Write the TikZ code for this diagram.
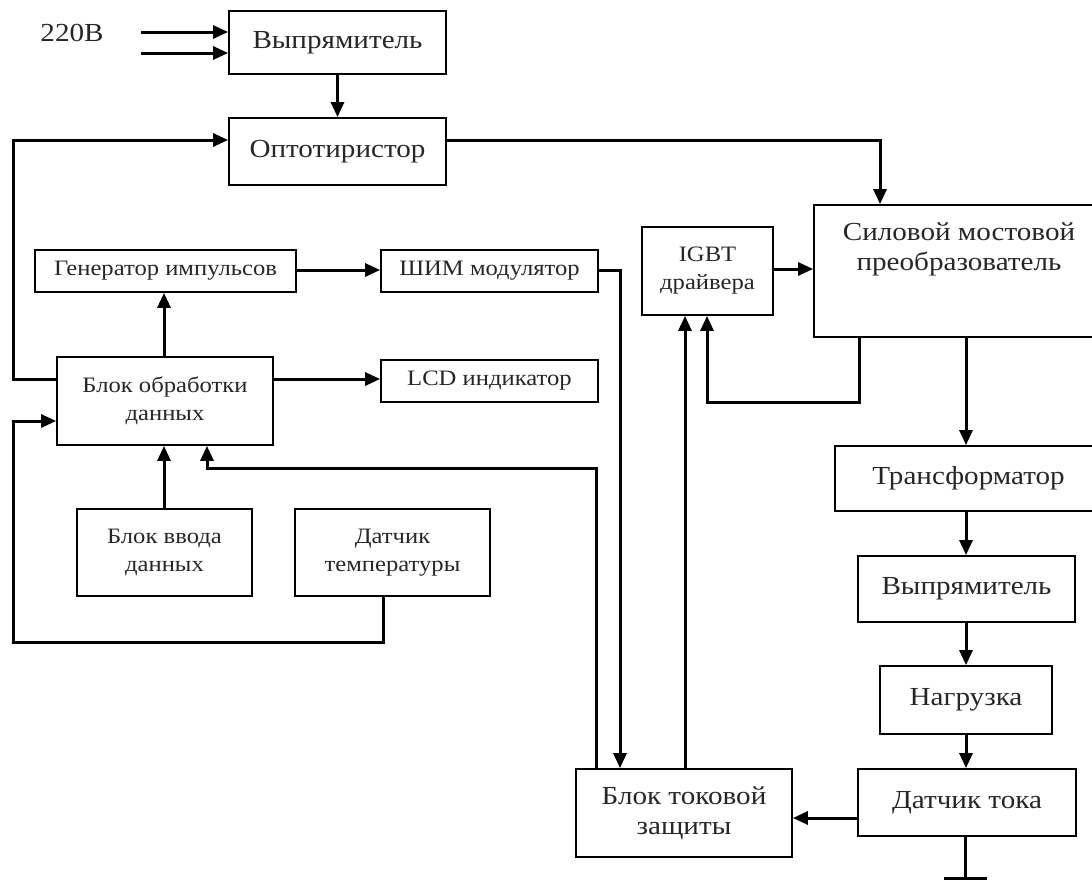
\documentclass[tikz,border=0pt]{standalone}
\usepackage{fontspec}
\setmainfont{Liberation Serif}[FakeStretch=1.12]
\usetikzlibrary{arrows.meta,calc}
\begin{document}
\begin{tikzpicture}[x=1pt,y=-1pt,
  box/.style={draw=black,line width=1.8pt,inner sep=2pt,align=center,text=black!85},
  big/.style={font=\fontsize{26}{30}\selectfont},
  small/.style={font=\fontsize{22}{28}\selectfont},
  wire/.style={line width=3pt},
  arr/.style={wire,-{Triangle[length=15pt,width=13pt]}}]
\useasboundingbox (0,0) rectangle (1092,881);
\clip (0,0) rectangle (1092,881);
% top chain
\node[big,text=black!85] (v220) at (72,33) {220В};
\node[box,big,minimum width=217pt,minimum height=63pt] (vyp1) at (337.5,42.5) {Выпрямитель};
\node[box,big,minimum width=217pt,minimum height=67pt] (opto) at (337.5,151.5) {Оптотиристор};
% left group
\node[box,small,minimum width=261pt,minimum height=42pt] (gen) at (165.5,271) {Генератор импульсов};
\node[box,small,minimum width=217pt,minimum height=42pt] (shim) at (489.5,271) {ШИМ модулятор};
\node[box,small,minimum width=216pt,minimum height=88pt] (blk) at (165,401) {Блок обработки\\данных};
\node[box,small,minimum width=217pt,minimum height=42pt] (lcd) at (489.5,381) {LCD индикатор};
\node[box,small,minimum width=175pt,minimum height=87pt] (vvod) at (164.5,552.5) {Блок ввода\\данных};
\node[box,small,minimum width=195pt,minimum height=87pt] (dtemp) at (392.5,552.5) {Датчик\\температуры};
% right group
\node[box,small,minimum width=131pt,minimum height=88pt] (igbt) at (707.5,271) {IGBT\\драйвера};
\node[box,minimum width=290pt,minimum height=132pt,
  label={[big,align=center,text=black!85,anchor=north,yshift=-15pt]north:{Силовой мостовой\\преобразователь}}] (sil) at (959,271) {};
\node[box,big,minimum width=267pt,minimum height=65pt] (tr) at (968.5,478.5) {Трансформатор};
\node[box,big,minimum width=217pt,minimum height=66pt] (vyp2) at (966.5,589) {Выпрямитель};
\node[box,big,minimum width=172pt,minimum height=68pt] (nagr) at (966,700) {Нагрузка};
\node[box,big,minimum width=218pt,minimum height=67pt] (dt) at (967,802.5) {Датчик тока};
\node[box,big,minimum width=216pt,minimum height=88pt] (tok) at (684,813) {Блок токовой\\защиты};
% free ends
\coordinate (in1) at (141,32);
\coordinate (in2) at (141,53);
\coordinate (gnd) at (965,878);
\coordinate (gndl) at (944,878);
\coordinate (gndr) at (987,878);
% connectors
\draw[arr] (in1) -- (in1 -| vyp1.west);
\draw[arr] (in2) -- (in2 -| vyp1.west);
\draw[arr] (vyp1.south) -- (opto.north);
\draw[arr] (blk.west |- 0,379) -| (13,140) -- (opto.west |- 0,140);
\draw[arr] (opto.east |- 0,140) -| (880,0 |- sil.north);
\draw[arr] (gen.east |- 0,270) -- (shim.west |- 0,270);
\draw[arr] (164,0 |- blk.north) -- (164,0 |- gen.south);
\draw[arr] (blk.east |- 0,379) -- (lcd.west |- 0,379);
\draw[arr] (164,0 |- vvod.north) -- (164,0 |- blk.south);
\draw[arr] (383,0 |- dtemp.south) -- (383,642) -| (13,421) -- (blk.west |- 0,421);
\draw[arr] (shim.east |- 0,270) -| (620,0 |- tok.north);
\draw[arr] (596,0 |- tok.north) |- (207,468) -- (207,0 |- blk.south);
\draw[arr] (685,0 |- tok.north) -- (685,0 |- igbt.south);
\draw[arr] (859,0 |- sil.south) |- (707,402) -- (707,0 |- igbt.south);
\draw[arr] (igbt.east |- 0,269) -- (sil.west |- 0,269);
\draw[arr] (966,0 |- sil.south) -- (966,0 |- tr.north);
\draw[arr] (966,0 |- tr.south) -- (966,0 |- vyp2.north);
\draw[arr] (966,0 |- vyp2.south) -- (966,0 |- nagr.north);
\draw[arr] (966,0 |- nagr.south) -- (966,0 |- dt.north);
\draw[arr] (dt.west |- 0,818) -- (tok.east |- 0,818);
\draw[wire] (965,0 |- dt.south) -- (gnd);
\draw[wire] (gndl) -- (gndr);
\end{tikzpicture}
\end{document}
